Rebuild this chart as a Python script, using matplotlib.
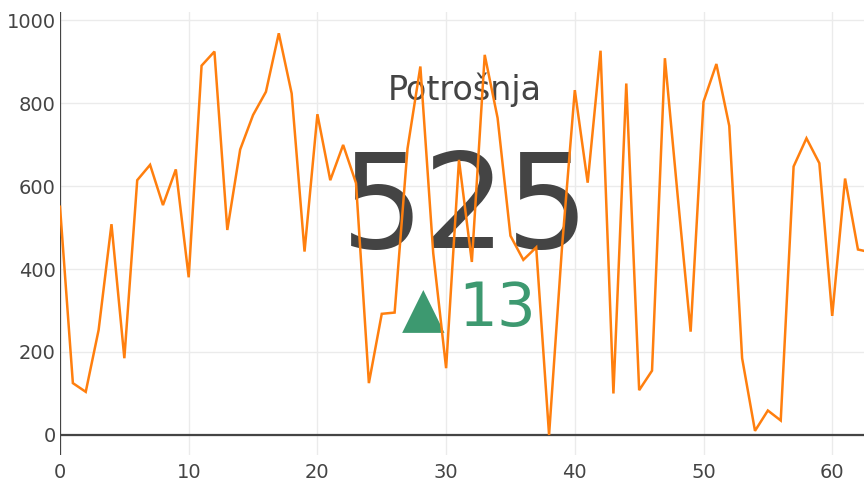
import numpy as np
import matplotlib.pyplot as plt

# consumption series (index 0..63)
x = np.arange(64)
potrosnja = [550, 125, 104, 253, 508, 185, 614, 651, 554, 640,
             380, 890, 924, 494, 688, 771, 827, 968, 823, 442,
             773, 614, 699, 607, 125, 292, 295, 690, 888, 438,
             161, 663, 417, 916, 764, 480, 422, 452, 0, 450,
             831, 608, 926, 100, 847, 108, 155, 908, 574, 249,
             803, 894, 745, 185, 10, 59, 35, 647, 715, 655,
             287, 618, 447, 440]

title = "Potrošnja"
value = 525
delta = 13

fig = plt.figure(figsize=(8.64, 4.79), dpi=100)
ax = fig.add_axes([60 / 864, 1 - 455 / 479, 1 - 60 / 864, (455 - 12) / 479])

ax.plot(x, potrosnja, color='#ff7f0e', lw=1.8, zorder=3, solid_joinstyle='miter')

ax.set_xlim(0, 62.47)
ax.set_ylim(-48.2, 1019.3)
ax.set_xticks(range(0, 61, 10))
ax.set_yticks(range(0, 1001, 200))
ax.grid(color='#ebebeb', lw=1, zorder=0)
ax.set_axisbelow(True)
ax.axhline(0, color='#444', lw=1.6, zorder=2)
ax.axvline(0, color='#444', lw=1.6, zorder=2)
for s in ax.spines.values():
    s.set_visible(False)
ax.tick_params(length=0, labelsize=14, labelcolor='#444')
ax.tick_params(axis='y', pad=3)
ax.tick_params(axis='x', pad=6)

# indicator text, drawn under the line
ax.text(465 / 864, 1 - 100 / 479, title, transform=fig.transFigure,
        ha='center', va='baseline', fontsize=24, color='#444', zorder=1)
ax.text(465 / 864, 1 - 248 / 479, str(value), transform=fig.transFigure,
        ha='center', va='baseline', fontsize=94, color='#444', zorder=1)
ax.text(423.5 / 864, 1 - 326 / 479, "▲", transform=fig.transFigure,
        ha='center', va='baseline', fontsize=40, color='#3D9970', zorder=1)
ax.text(458 / 864, 1 - 326 / 479, str(delta), transform=fig.transFigure,
        ha='left', va='baseline', fontsize=44, color='#3D9970', zorder=1)

fig.savefig('out.png', dpi=100)
